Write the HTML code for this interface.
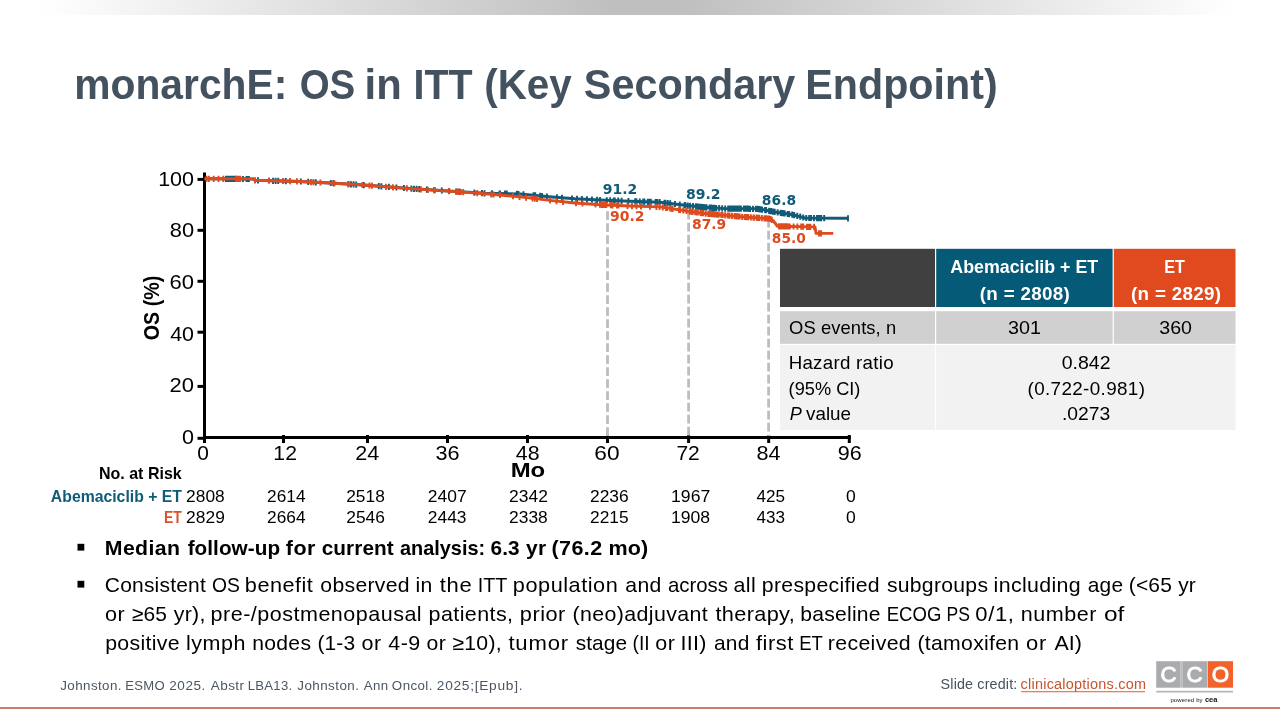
<!DOCTYPE html>
<html lang="en">
<head>
<meta charset="utf-8">
<title>monarchE: OS in ITT (Key Secondary Endpoint)</title>
<style>
html,body{margin:0;padding:0;background:#fff;}
body{width:1280px;height:720px;overflow:hidden;font-family:"Liberation Sans", sans-serif;}
svg{display:block;will-change:transform;}
text{white-space:pre;}
</style>
</head>
<body>
<svg width="1280" height="720" viewBox="0 0 1280 720" xml:space="preserve">
<defs>
<linearGradient id="topg" x1="0" x2="1" y1="0" y2="0">
<stop offset="0" stop-color="#ffffff"/><stop offset="0.03" stop-color="#ffffff"/><stop offset="0.48" stop-color="#bfbfbf"/><stop offset="0.53" stop-color="#bfbfbf"/><stop offset="0.965" stop-color="#ffffff"/><stop offset="1" stop-color="#ffffff"/>
</linearGradient>
</defs>
<rect x="0" y="0" width="1280" height="15" fill="url(#topg)"/>
<text x="74.31" y="99" font-family='"Liberation Sans", sans-serif' font-size="43" fill="#44525f" font-weight="bold" textLength="224.25" lengthAdjust="spacingAndGlyphs">monarchE: </text>
<text x="299.67" y="99" font-family='"Liberation Sans", sans-serif' font-size="43" fill="#44525f" font-weight="bold" textLength="66.25" lengthAdjust="spacingAndGlyphs">OS </text>
<text x="364.58" y="99" font-family='"Liberation Sans", sans-serif' font-size="43" fill="#44525f" font-weight="bold" textLength="48.75" lengthAdjust="spacingAndGlyphs">in </text>
<text x="413.62" y="99" font-family='"Liberation Sans", sans-serif' font-size="43" fill="#44525f" font-weight="bold" textLength="70.00" lengthAdjust="spacingAndGlyphs">ITT </text>
<text x="484.24" y="99" font-family='"Liberation Sans", sans-serif' font-size="43" fill="#44525f" font-weight="bold" textLength="98.75" lengthAdjust="spacingAndGlyphs">(Key </text>
<text x="583.81" y="99" font-family='"Liberation Sans", sans-serif' font-size="43" fill="#44525f" font-weight="bold" textLength="223.00" lengthAdjust="spacingAndGlyphs">Secondary </text>
<text x="805.24" y="99" font-family='"Liberation Sans", sans-serif' font-size="43" fill="#44525f" font-weight="bold" textLength="192.41" lengthAdjust="spacingAndGlyphs" >Endpoint)</text>
<g stroke="#000" stroke-width="3" fill="none">
<path d="M204.5 172.5V439"/>
<path d="M203 437.5H850.7"/>
<path d="M197.5 179.4H204"/>
<path d="M197.5 230.3H204"/>
<path d="M197.5 281.3H204"/>
<path d="M197.5 332.2H204"/>
<path d="M197.5 386.4H204"/>
<path d="M197.5 438.3H204"/>
<path d="M204.5 435V443"/>
<path d="M283.5 435V443"/>
<path d="M367.5 435V443"/>
<path d="M447.5 435V443"/>
<path d="M527.5 435V443"/>
<path d="M607.5 435V443"/>
<path d="M688.6 435V443"/>
<path d="M768.7 435V443"/>
<path d="M849.3 435V443"/>
</g>
<text x="158.16" y="186" font-family='"Liberation Sans", sans-serif' font-size="19.8" fill="#000" textLength="35.88" lengthAdjust="spacingAndGlyphs" >100</text>
<text x="169.75" y="237.2" font-family='"Liberation Sans", sans-serif' font-size="19.8" fill="#000" textLength="24.30" lengthAdjust="spacingAndGlyphs" >80</text>
<text x="169.58" y="288.7" font-family='"Liberation Sans", sans-serif' font-size="19.8" fill="#000" textLength="24.48" lengthAdjust="spacingAndGlyphs" >60</text>
<text x="170.21" y="340.8" font-family='"Liberation Sans", sans-serif' font-size="19.8" fill="#000" textLength="23.83" lengthAdjust="spacingAndGlyphs" >40</text>
<text x="169.59" y="391.9" font-family='"Liberation Sans", sans-serif' font-size="19.8" fill="#000" textLength="24.47" lengthAdjust="spacingAndGlyphs" >20</text>
<text x="182.06" y="443.5" font-family='"Liberation Sans", sans-serif' font-size="19.8" fill="#000" textLength="11.98" lengthAdjust="spacingAndGlyphs" >0</text>
<text x="197.28" y="460" font-family='"Liberation Sans", sans-serif' font-size="19.8" fill="#000" textLength="11.63" lengthAdjust="spacingAndGlyphs" >0</text>
<text x="273.39" y="460" font-family='"Liberation Sans", sans-serif' font-size="19.8" fill="#000" textLength="23.58" lengthAdjust="spacingAndGlyphs" >12</text>
<text x="355.21" y="460" font-family='"Liberation Sans", sans-serif' font-size="19.8" fill="#000" textLength="24.02" lengthAdjust="spacingAndGlyphs" >24</text>
<text x="435.48" y="460" font-family='"Liberation Sans", sans-serif' font-size="19.8" fill="#000" textLength="24.08" lengthAdjust="spacingAndGlyphs" >36</text>
<text x="515.81" y="460" font-family='"Liberation Sans", sans-serif' font-size="19.8" fill="#000" textLength="23.72" lengthAdjust="spacingAndGlyphs" >48</text>
<text x="594.35" y="460" font-family='"Liberation Sans", sans-serif' font-size="19.8" fill="#000" textLength="25.29" lengthAdjust="spacingAndGlyphs" >60</text>
<text x="676.42" y="460" font-family='"Liberation Sans", sans-serif' font-size="19.8" fill="#000" textLength="23.39" lengthAdjust="spacingAndGlyphs" >72</text>
<text x="756.56" y="460" font-family='"Liberation Sans", sans-serif' font-size="19.8" fill="#000" textLength="24.07" lengthAdjust="spacingAndGlyphs" >84</text>
<text x="837.74" y="460" font-family='"Liberation Sans", sans-serif' font-size="19.8" fill="#000" textLength="23.96" lengthAdjust="spacingAndGlyphs" >96</text>
<text transform="translate(159.0 340.25) rotate(-90)" font-family='"Liberation Sans", sans-serif' font-size="21.2" font-weight="bold" textLength="64.49" lengthAdjust="spacingAndGlyphs">OS (%)</text>
<text x="510.65" y="476.6" font-family='"Liberation Sans", sans-serif' font-size="20.8" fill="#000" font-weight="bold" textLength="34.53" lengthAdjust="spacingAndGlyphs" >Mo</text>
<g stroke="#bdbdbd" stroke-width="2.8" stroke-dasharray="8.8 3.2" fill="none">
<path d="M607.5 211.2V436"/>
<path d="M688.6 210.8V436"/>
<path d="M768.6 218.8V436"/>
</g>
<g fill="none" stroke="#0f5b78"><path d="M204.5 178.8L253.5 179L255 180.3L300 181.5L330 183L360 184.8L410 188.5L460 191.7L485 193.3L500 193.5L520 194L552 197L575 198.8L600 200L630 201.2L660 202.2L687 205.5L705 207.3L725 208.6L757 208.8L765 210L775 212L793 214.8L805 218L848 218.3" stroke-width="2.9" stroke-linejoin="round"/><path d="M226.0 175.8V182.0M227.6 175.8V182.0M228.2 175.8V182.0M229.8 175.8V182.0M230.3 175.8V182.0M231.9 175.8V182.0M233.5 175.8V182.0M234.1 175.8V182.0M235.7 175.8V182.0M243.0 175.9V182.1M246.5 175.9V182.1M247.7 175.9V182.1M248.9 175.9V182.1M258.0 177.3V183.5M273.0 177.7V183.9M275.6 177.8V183.9M278.2 177.8V184.0M285.8 178.0V184.2M300.8 178.4V184.6M308.2 178.8V185.0M315.8 179.2V185.4M330.8 179.9V186.1M333.4 180.1V186.3M348.4 181.0V187.2M351.0 181.2V187.4M353.6 181.3V187.5M356.2 181.5V187.7M363.8 182.0V188.2M378.8 183.1V189.3M381.4 183.3V189.5M388.9 183.8V190.0M396.4 184.4V190.6M403.9 184.9V191.1M411.4 185.5V191.7M414.0 185.7V191.9M416.6 185.8V192.0M419.2 186.0V192.2M426.8 186.5V192.7M434.2 187.0V193.2M441.8 187.4V193.6M449.2 187.9V194.1M456.8 188.4V194.6M459.4 188.6V194.8M474.4 189.5V195.7M481.9 190.0V196.2M484.5 190.2V196.4M492.0 190.3V196.5M499.5 190.4V196.6M500.0 190.4V196.6M505.0 190.5V196.7M506.8 190.6V196.8M516.8 190.8V197.0M518.5 190.9V197.1M523.5 191.2V197.4M533.5 192.2V198.4M535.2 192.3V198.5M540.2 192.8V199.0M542.0 193.0V199.2M547.0 193.4V199.6M557.0 194.3V200.5M562.0 194.7V200.9M572.0 195.5V201.7M577.0 195.8V202.0M582.0 196.0V202.2M587.0 196.3V202.5M592.0 196.5V202.7M597.0 196.8V203.0M600.0 196.9V203.1M606.8 197.2V203.4M610.2 197.3V203.5M613.6 197.4V203.6M614.8 197.5V203.7M618.2 197.6V203.8M621.6 197.8V204.0M628.4 198.0V204.2M635.2 198.3V204.5M636.4 198.3V204.5M639.8 198.4V204.6M643.2 198.5V204.7M644.4 198.6V204.8M647.8 198.7V204.9M649.0 198.7V204.9M650.0 198.8V205.0M650.8 198.8V205.0M655.6 199.0V205.2M656.5 199.0V205.2M657.3 199.0V205.2M659.7 199.1V205.3M664.5 199.7V205.9M665.4 199.8V206.0M667.8 200.0V206.2M670.2 200.3V206.5M675.0 200.9V207.1M679.8 201.5V207.7M684.6 202.1V208.3M685.4 202.2V208.4M687.8 202.5V208.7M690.0 202.7V208.9M693.0 203.0V209.2M696.0 203.3V209.5M696.5 203.4V209.6M697.0 203.4V209.6M697.6 203.5V209.7M698.1 203.5V209.7M699.6 203.7V209.9M701.1 203.8V210.0M701.6 203.9V210.1M702.1 203.9V210.1M703.6 204.1V210.3M705.1 204.2V210.4M706.6 204.3V210.5M709.6 204.5V210.7M711.1 204.6V210.8M712.6 204.7V210.9M714.1 204.8V211.0M715.6 204.9V211.1M716.2 204.9V211.1M719.2 205.1V211.3M722.2 205.3V211.5M725.2 205.5V211.7M728.2 205.5V211.7M729.7 205.5V211.7M731.2 205.5V211.7M731.7 205.5V211.7M733.2 205.6V211.8M733.7 205.6V211.8M734.2 205.6V211.8M734.8 205.6V211.8M735.3 205.6V211.8M736.8 205.6V211.8M737.3 205.6V211.8M737.8 205.6V211.8M738.4 205.6V211.8M738.9 205.6V211.8M740.4 205.6V211.8M740.9 205.6V211.8M743.9 205.6V211.8M745.4 205.6V211.8M745.9 205.6V211.8M746.5 205.6V211.8M748.0 205.6V211.8M749.5 205.7V211.9M750.0 205.7V211.9M753.0 205.7V211.9M756.0 205.7V211.9M757.5 205.8V212.0M759.0 206.0V212.2M759.5 206.1V212.3M760.0 206.2V212.4M761.5 206.4V212.6M762.1 206.5V212.7M765.1 206.9V213.1M765.6 207.0V213.2M766.1 207.1V213.3M769.1 207.7V213.9M770.6 208.0V214.2M771.1 208.1V214.3M772.6 208.4V214.6M773.2 208.5V214.7M774.7 208.8V215.0M777.7 209.3V215.5M780.7 209.8V216.0M782.2 210.0V216.2M782.7 210.1V216.3M784.2 210.3V216.5M784.7 210.4V216.6M787.7 210.9V217.1M789.2 211.1V217.3M792.2 211.6V217.8M793.7 211.9V218.1M794.2 212.0V218.2M797.2 212.8V219.0M800.2 213.6V219.8M803.2 214.4V220.6M806.2 214.9V221.1M809.2 214.9V221.1M810.0 214.9V221.1M811.0 214.9V221.1M814.0 215.0V221.2M817.0 215.0V221.2M818.1 215.0V221.2M819.1 215.0V221.2M820.2 215.0V221.2M821.2 215.0V221.2M824.2 215.0V221.2M848 215.2V221.6" stroke-width="1.9"/></g>
<g fill="none" stroke="#de4b1f"><path d="M204.5 178.8L253.5 178.9L255 180.3L300 181.5L330 183L360 184.8L410 188.6L460 191.9L485 193.75L500 195L520 196.9L552 200.6L575 203L600 204.75L630 206L660 206.9L687 211L705 213.5L725 215.25L745 217L762 218.1L770 218.75L773 220.5L777.5 226.25L815 226.9L816 233.4L833.3 233.4" stroke-width="2.9" stroke-linejoin="round"/><path d="M206.5 175.7V181.9M208.9 175.7V181.9M213.7 175.7V181.9M218.5 175.7V181.9M223.3 175.7V181.9M236.0 175.8V182.0M237.1 175.8V182.0M238.1 175.8V182.0M239.2 175.8V182.0M240.2 175.8V182.0M255.0 177.2V183.4M269.0 177.6V183.8M283.0 177.9V184.1M290.0 178.1V184.3M297.0 178.3V184.5M311.0 179.0V185.2M313.4 179.1V185.3M320.4 179.4V185.6M334.4 180.2V186.4M348.4 181.0V187.2M362.4 181.9V188.1M369.4 182.4V188.6M371.9 182.6V188.8M385.9 183.7V189.9M392.9 184.2V190.4M406.9 185.3V191.5M420.9 186.2V192.4M427.9 186.7V192.9M434.9 187.1V193.3M448.9 188.1V194.3M455.9 188.5V194.7M458.3 188.7V194.9M460.8 188.9V195.1M463.2 189.0V195.2M477.2 190.1V196.3M491.2 191.2V197.4M493.7 191.4V197.6M500.0 191.9V198.1M513.0 193.1V199.3M519.5 193.8V200.0M526.0 194.5V200.7M532.5 195.2V201.4M534.8 195.5V201.7M537.0 195.8V202.0M550.0 197.3V203.5M556.5 198.0V204.2M563.0 198.7V204.9M576.0 200.0V206.2M582.5 200.4V206.6M595.5 201.3V207.5M600.0 201.7V207.8M601.6 201.7V207.9M603.2 201.8V208.0M604.7 201.8V208.0M606.3 201.9V208.1M610.8 202.1V208.3M612.4 202.2V208.4M616.9 202.4V208.6M618.5 202.4V208.6M627.5 202.8V209.0M632.0 203.0V209.2M636.5 203.1V209.3M641.0 203.2V209.4M650.0 203.5V209.7M650.0 203.5V209.7M656.4 203.7V209.9M659.6 203.8V210.0M662.8 204.2V210.4M666.0 204.7V210.9M667.1 204.9V211.1M670.3 205.4V211.6M671.4 205.5V211.7M672.6 205.7V211.9M679.0 206.7V212.9M680.1 206.8V213.0M683.3 207.3V213.5M686.5 207.8V214.0M689.7 208.3V214.5M690.0 208.3V214.5M691.3 208.5V214.7M692.6 208.7V214.9M695.2 209.0V215.2M695.7 209.1V215.3M697.0 209.3V215.5M697.4 209.3V215.5M697.9 209.4V215.6M700.5 209.8V216.0M701.8 210.0V216.2M703.1 210.1V216.3M705.7 210.5V216.7M708.3 210.7V216.9M709.6 210.8V217.0M710.9 210.9V217.1M712.2 211.0V217.2M713.5 211.1V217.3M714.8 211.3V217.5M716.1 211.4V217.6M717.4 211.5V217.7M718.7 211.6V217.8M721.3 211.8V218.0M722.6 211.9V218.1M725.2 212.2V218.4M727.8 212.4V218.6M728.2 212.4V218.6M729.5 212.5V218.7M732.1 212.8V219.0M734.7 213.0V219.2M735.2 213.0V219.2M735.6 213.1V219.3M736.9 213.2V219.4M737.4 213.2V219.4M737.8 213.3V219.5M738.3 213.3V219.5M739.6 213.4V219.6M742.2 213.7V219.9M744.8 213.9V220.1M745.2 213.9V220.1M746.5 214.0V220.2M747.8 214.1V220.3M748.3 214.1V220.3M750.9 214.3V220.5M753.5 214.5V220.7M754.0 214.5V220.7M756.6 214.6V220.8M757.9 214.7V220.9M759.2 214.8V221.0M761.8 215.0V221.2M764.4 215.2V221.4M764.8 215.2V221.4M766.1 215.3V221.5M767.4 215.4V221.6M768.7 215.5V221.7M769.2 215.6V221.8M770.5 215.9V222.1M771.8 216.7V222.9M779.0 223.2V229.4M780.9 223.2V229.4M782.8 223.2V229.4M783.5 223.3V229.5M785.4 223.3V229.5M787.3 223.3V229.5M789.2 223.4V229.6M789.8 223.4V229.6M793.6 223.4V229.6M797.4 223.5V229.7M801.2 223.6V229.8M801.9 223.6V229.8M802.6 223.6V229.8M803.2 223.6V229.8M807.0 223.7V229.9M807.7 223.7V229.9M808.4 223.7V229.9M810.3 223.7V229.9M814.1 223.8V230.0M819.0 230.3V236.5M820.0 230.3V236.5M821.1 230.3V236.5" stroke-width="1.9"/></g>
<text x="602.78" y="194.3" font-family='"DejaVu Sans", "Liberation Sans", sans-serif' font-size="14.6" fill="#0f5b78" font-weight="bold" textLength="34.44" lengthAdjust="spacingAndGlyphs" >91.2</text>
<text x="686.04" y="199.3" font-family='"DejaVu Sans", "Liberation Sans", sans-serif' font-size="14.6" fill="#0f5b78" font-weight="bold" textLength="34.57" lengthAdjust="spacingAndGlyphs" >89.2</text>
<text x="761.85" y="205.3" font-family='"DejaVu Sans", "Liberation Sans", sans-serif' font-size="14.6" fill="#0f5b78" font-weight="bold" textLength="34.21" lengthAdjust="spacingAndGlyphs" >86.8</text>
<text x="610.08" y="221.4" font-family='"DejaVu Sans", "Liberation Sans", sans-serif' font-size="14.6" fill="#de4b1f" font-weight="bold" textLength="34.44" lengthAdjust="spacingAndGlyphs" >90.2</text>
<text x="692.05" y="228.9" font-family='"DejaVu Sans", "Liberation Sans", sans-serif' font-size="14.6" fill="#de4b1f" font-weight="bold" textLength="34.23" lengthAdjust="spacingAndGlyphs" >87.9</text>
<text x="771.86" y="242.7" font-family='"DejaVu Sans", "Liberation Sans", sans-serif' font-size="14.6" fill="#de4b1f" font-weight="bold" textLength="34.00" lengthAdjust="spacingAndGlyphs" >85.0</text>
<rect x="780" y="248.8" width="155" height="58.2" fill="#404040"/>
<rect x="936.2" y="248.8" width="176.4" height="58.2" fill="#055a78"/>
<rect x="1113.8" y="248.8" width="121.7" height="58.2" fill="#e04a1e"/>
<rect x="780" y="311.2" width="155" height="32.6" fill="#d0d0d0"/>
<rect x="936.2" y="311.2" width="176.4" height="32.6" fill="#d0d0d0"/>
<rect x="1113.8" y="311.2" width="121.7" height="32.6" fill="#d0d0d0"/>
<rect x="780" y="345" width="155" height="85" fill="#f2f2f2"/>
<rect x="936.2" y="345" width="299.3" height="85" fill="#f2f2f2"/>
<text x="950.31" y="272.5" font-family='"Liberation Sans", sans-serif' font-size="18.2" fill="#fff" font-weight="bold" textLength="147.88" lengthAdjust="spacingAndGlyphs" >Abemaciclib + ET</text>
<text x="979.82" y="300" font-family='"Liberation Sans", sans-serif' font-size="18.2" fill="#fff" font-weight="bold" letter-spacing="0.297" textLength="90.18" lengthAdjust="spacingAndGlyphs" >(n = 2808)</text>
<text x="1164.22" y="272.5" font-family='"Liberation Sans", sans-serif' font-size="18.2" fill="#fff" font-weight="bold" textLength="20.65" lengthAdjust="spacingAndGlyphs" >ET</text>
<text x="1131.07" y="300" font-family='"Liberation Sans", sans-serif' font-size="18.2" fill="#fff" font-weight="bold" letter-spacing="0.297" textLength="90.18" lengthAdjust="spacingAndGlyphs" >(n = 2829)</text>
<text x="789.13" y="333.75" font-family='"Liberation Sans", sans-serif' font-size="18.2" fill="#000" letter-spacing="0.083" textLength="107.15" lengthAdjust="spacingAndGlyphs" >OS events, n</text>
<text x="1008.00" y="333.75" font-family='"Liberation Sans", sans-serif' font-size="18.2" fill="#000" textLength="32.97" lengthAdjust="spacingAndGlyphs" >301</text>
<text x="1159.25" y="333.75" font-family='"Liberation Sans", sans-serif' font-size="18.2" fill="#000" textLength="32.77" lengthAdjust="spacingAndGlyphs" >360</text>
<text x="788.66" y="368.5" font-family='"Liberation Sans", sans-serif' font-size="18.2" fill="#000" letter-spacing="0.260" textLength="105.19" lengthAdjust="spacingAndGlyphs" >Hazard ratio</text>
<text x="788.57" y="394.5" font-family='"Liberation Sans", sans-serif' font-size="18.2" fill="#000" letter-spacing="0.004" textLength="71.86" lengthAdjust="spacingAndGlyphs" >(95% CI)</text>
<text x="789.64" y="419.7" font-family='"Liberation Sans", sans-serif' font-size="18.2" fill="#000" font-style="italic" textLength="12.07" lengthAdjust="spacingAndGlyphs" >P</text>
<text x="806.04" y="419.7" font-family='"Liberation Sans", sans-serif' font-size="18.2" fill="#000" textLength="45.00" lengthAdjust="spacingAndGlyphs" >value</text>
<text x="1061.74" y="368.5" font-family='"Liberation Sans", sans-serif' font-size="18.2" fill="#000" textLength="48.74" lengthAdjust="spacingAndGlyphs" >0.842</text>
<text x="1027.58" y="394.5" font-family='"Liberation Sans", sans-serif' font-size="18.2" fill="#000" letter-spacing="0.333" textLength="117.68" lengthAdjust="spacingAndGlyphs" >(0.722-0.981)</text>
<text x="1061.99" y="419.7" font-family='"Liberation Sans", sans-serif' font-size="18.2" fill="#000" textLength="48.36" lengthAdjust="spacingAndGlyphs" >.0273</text>
<text x="98.93" y="478.75" font-family='"Liberation Sans", sans-serif' font-size="16.2" fill="#000" font-weight="bold" textLength="82.81" lengthAdjust="spacingAndGlyphs" >No. at Risk</text>
<text x="50.86" y="501.75" font-family='"Liberation Sans", sans-serif' font-size="16.2" fill="#0f5b78" font-weight="bold" textLength="131.06" lengthAdjust="spacingAndGlyphs" >Abemaciclib + ET</text>
<text x="164.07" y="523.25" font-family='"Liberation Sans", sans-serif' font-size="16.2" fill="#d9532c" font-weight="bold" textLength="17.83" lengthAdjust="spacingAndGlyphs" >ET</text>
<text x="186.13" y="501.75" font-family='"Liberation Sans", sans-serif' font-size="16.2" fill="#000" textLength="38.63" lengthAdjust="spacingAndGlyphs" >2808</text>
<text x="267.13" y="501.75" font-family='"Liberation Sans", sans-serif' font-size="16.2" fill="#000" textLength="38.37" lengthAdjust="spacingAndGlyphs" >2614</text>
<text x="346.23" y="501.75" font-family='"Liberation Sans", sans-serif' font-size="16.2" fill="#000" textLength="38.63" lengthAdjust="spacingAndGlyphs" >2518</text>
<text x="427.87" y="501.75" font-family='"Liberation Sans", sans-serif' font-size="16.2" fill="#000" textLength="38.75" lengthAdjust="spacingAndGlyphs" >2407</text>
<text x="509.12" y="501.75" font-family='"Liberation Sans", sans-serif' font-size="16.2" fill="#000" textLength="38.75" lengthAdjust="spacingAndGlyphs" >2342</text>
<text x="590.03" y="501.75" font-family='"Liberation Sans", sans-serif' font-size="16.2" fill="#000" textLength="38.64" lengthAdjust="spacingAndGlyphs" >2236</text>
<text x="671.06" y="501.75" font-family='"Liberation Sans", sans-serif' font-size="16.2" fill="#000" textLength="39.23" lengthAdjust="spacingAndGlyphs" >1967</text>
<text x="756.41" y="501.75" font-family='"Liberation Sans", sans-serif' font-size="16.2" fill="#000" textLength="28.51" lengthAdjust="spacingAndGlyphs" >425</text>
<text x="846.01" y="501.75" font-family='"Liberation Sans", sans-serif' font-size="16.2" fill="#000" textLength="9.77" lengthAdjust="spacingAndGlyphs" >0</text>
<text x="186.13" y="523.25" font-family='"Liberation Sans", sans-serif' font-size="16.2" fill="#000" textLength="38.70" lengthAdjust="spacingAndGlyphs" >2829</text>
<text x="267.13" y="523.25" font-family='"Liberation Sans", sans-serif' font-size="16.2" fill="#000" textLength="38.37" lengthAdjust="spacingAndGlyphs" >2664</text>
<text x="346.23" y="523.25" font-family='"Liberation Sans", sans-serif' font-size="16.2" fill="#000" textLength="38.64" lengthAdjust="spacingAndGlyphs" >2546</text>
<text x="427.88" y="523.25" font-family='"Liberation Sans", sans-serif' font-size="16.2" fill="#000" textLength="38.64" lengthAdjust="spacingAndGlyphs" >2443</text>
<text x="509.13" y="523.25" font-family='"Liberation Sans", sans-serif' font-size="16.2" fill="#000" textLength="38.63" lengthAdjust="spacingAndGlyphs" >2338</text>
<text x="590.03" y="523.25" font-family='"Liberation Sans", sans-serif' font-size="16.2" fill="#000" textLength="38.60" lengthAdjust="spacingAndGlyphs" >2215</text>
<text x="671.06" y="523.25" font-family='"Liberation Sans", sans-serif' font-size="16.2" fill="#000" textLength="39.10" lengthAdjust="spacingAndGlyphs" >1908</text>
<text x="756.41" y="523.25" font-family='"Liberation Sans", sans-serif' font-size="16.2" fill="#000" textLength="28.54" lengthAdjust="spacingAndGlyphs" >433</text>
<text x="846.01" y="523.25" font-family='"Liberation Sans", sans-serif' font-size="16.2" fill="#000" textLength="9.77" lengthAdjust="spacingAndGlyphs" >0</text>
<rect x="77.5" y="543.8" width="6.8" height="6.8" fill="#000"/>
<rect x="77.5" y="580.8" width="6.8" height="6.8" fill="#000"/>
<text x="104.83" y="555" font-family='"Liberation Sans", sans-serif' font-size="20.6" fill="#000" font-weight="bold" letter-spacing="0.362" textLength="81.75" lengthAdjust="spacingAndGlyphs">Median </text>
<text x="187.65" y="555" font-family='"Liberation Sans", sans-serif' font-size="20.6" fill="#000" font-weight="bold" letter-spacing="0.050" textLength="98.25" lengthAdjust="spacingAndGlyphs">follow-up </text>
<text x="285.88" y="555" font-family='"Liberation Sans", sans-serif' font-size="20.6" fill="#000" font-weight="bold" letter-spacing="0.383" textLength="36.25" lengthAdjust="spacingAndGlyphs">for </text>
<text x="321.69" y="555" font-family='"Liberation Sans", sans-serif' font-size="20.6" fill="#000" font-weight="bold" letter-spacing="0.081" textLength="78.00" lengthAdjust="spacingAndGlyphs">current </text>
<text x="399.92" y="555" font-family='"Liberation Sans", sans-serif' font-size="20.6" fill="#000" font-weight="bold" textLength="90.75" lengthAdjust="spacingAndGlyphs">analysis: </text>
<text x="490.49" y="555" font-family='"Liberation Sans", sans-serif' font-size="20.6" fill="#000" font-weight="bold" letter-spacing="0.080" textLength="35.00" lengthAdjust="spacingAndGlyphs">6.3 </text>
<text x="526.09" y="555" font-family='"Liberation Sans", sans-serif' font-size="20.6" fill="#000" font-weight="bold" letter-spacing="0.176" textLength="26.25" lengthAdjust="spacingAndGlyphs">yr </text>
<text x="551.43" y="555" font-family='"Liberation Sans", sans-serif' font-size="20.6" fill="#000" font-weight="bold" letter-spacing="0.402" textLength="57.50" lengthAdjust="spacingAndGlyphs">(76.2 </text>
<text x="608.58" y="555" font-family='"Liberation Sans", sans-serif' font-size="20.6" fill="#000" font-weight="bold" textLength="39.49" lengthAdjust="spacingAndGlyphs" >mo)</text>
<text x="104.83" y="591.75" font-family='"Liberation Sans", sans-serif' font-size="20.6" fill="#000" letter-spacing="0.184" textLength="107.10" lengthAdjust="spacingAndGlyphs">Consistent </text>
<text x="212.09" y="591.75" font-family='"Liberation Sans", sans-serif' font-size="20.6" fill="#000" textLength="33.25" lengthAdjust="spacingAndGlyphs">OS </text>
<text x="244.85" y="591.75" font-family='"Liberation Sans", sans-serif' font-size="20.6" fill="#000" letter-spacing="0.464" textLength="75.00" lengthAdjust="spacingAndGlyphs">benefit </text>
<text x="320.36" y="591.75" font-family='"Liberation Sans", sans-serif' font-size="20.6" fill="#000" letter-spacing="0.294" textLength="95.75" lengthAdjust="spacingAndGlyphs">observed </text>
<text x="415.58" y="591.75" font-family='"Liberation Sans", sans-serif' font-size="20.6" fill="#000" letter-spacing="0.207" textLength="23.00" lengthAdjust="spacingAndGlyphs">in </text>
<text x="439.67" y="591.75" font-family='"Liberation Sans", sans-serif' font-size="20.6" fill="#000" letter-spacing="0.642" textLength="39.50" lengthAdjust="spacingAndGlyphs">the </text>
<text x="477.70" y="591.75" font-family='"Liberation Sans", sans-serif' font-size="20.6" fill="#000" textLength="34.75" lengthAdjust="spacingAndGlyphs">ITT </text>
<text x="512.85" y="591.75" font-family='"Liberation Sans", sans-serif' font-size="20.6" fill="#000" letter-spacing="0.509" textLength="112.00" lengthAdjust="spacingAndGlyphs">population </text>
<text x="625.35" y="591.75" font-family='"Liberation Sans", sans-serif' font-size="20.6" fill="#000" letter-spacing="0.301" textLength="42.50" lengthAdjust="spacingAndGlyphs">and </text>
<text x="667.88" y="591.75" font-family='"Liberation Sans", sans-serif' font-size="20.6" fill="#000" textLength="65.75" lengthAdjust="spacingAndGlyphs">across </text>
<text x="733.59" y="591.75" font-family='"Liberation Sans", sans-serif' font-size="20.6" fill="#000" letter-spacing="0.302" textLength="28.75" lengthAdjust="spacingAndGlyphs">all </text>
<text x="761.88" y="591.75" font-family='"Liberation Sans", sans-serif' font-size="20.6" fill="#000" letter-spacing="0.287" textLength="124.25" lengthAdjust="spacingAndGlyphs">prespecified </text>
<text x="886.91" y="591.75" font-family='"Liberation Sans", sans-serif' font-size="20.6" fill="#000" letter-spacing="0.279" textLength="107.50" lengthAdjust="spacingAndGlyphs">subgroups </text>
<text x="993.57" y="591.75" font-family='"Liberation Sans", sans-serif' font-size="20.6" fill="#000" letter-spacing="0.336" textLength="93.75" lengthAdjust="spacingAndGlyphs">including </text>
<text x="1087.86" y="591.75" font-family='"Liberation Sans", sans-serif' font-size="20.6" fill="#000" letter-spacing="0.145" textLength="41.25" lengthAdjust="spacingAndGlyphs">age </text>
<text x="1128.70" y="591.75" font-family='"Liberation Sans", sans-serif' font-size="20.6" fill="#000" letter-spacing="0.203" textLength="67.36" lengthAdjust="spacingAndGlyphs" >(&lt;65 yr</text>
<text x="104.99" y="620.75" font-family='"Liberation Sans", sans-serif' font-size="20.6" fill="#000" letter-spacing="0.427" textLength="26.60" lengthAdjust="spacingAndGlyphs">or </text>
<text x="131.84" y="620.75" font-family='"Liberation Sans", sans-serif' font-size="20.6" fill="#000" letter-spacing="0.163" textLength="41.25" lengthAdjust="spacingAndGlyphs">≥65 </text>
<text x="173.70" y="620.75" font-family='"Liberation Sans", sans-serif' font-size="20.6" fill="#000" letter-spacing="0.278" textLength="38.25" lengthAdjust="spacingAndGlyphs">yr), </text>
<text x="210.61" y="620.75" font-family='"Liberation Sans", sans-serif' font-size="20.6" fill="#000" letter-spacing="0.469" textLength="218.00" lengthAdjust="spacingAndGlyphs">pre-/postmenopausal </text>
<text x="428.61" y="620.75" font-family='"Liberation Sans", sans-serif' font-size="20.6" fill="#000" letter-spacing="0.383" textLength="91.25" lengthAdjust="spacingAndGlyphs">patients, </text>
<text x="519.85" y="620.75" font-family='"Liberation Sans", sans-serif' font-size="20.6" fill="#000" letter-spacing="0.464" textLength="52.50" lengthAdjust="spacingAndGlyphs">prior </text>
<text x="572.42" y="620.75" font-family='"Liberation Sans", sans-serif' font-size="20.6" fill="#000" letter-spacing="0.368" textLength="142.00" lengthAdjust="spacingAndGlyphs">(neo)adjuvant </text>
<text x="715.43" y="620.75" font-family='"Liberation Sans", sans-serif' font-size="20.6" fill="#000" letter-spacing="0.325" textLength="86.00" lengthAdjust="spacingAndGlyphs">therapy, </text>
<text x="800.39" y="620.75" font-family='"Liberation Sans", sans-serif' font-size="20.6" fill="#000" letter-spacing="0.224" textLength="86.50" lengthAdjust="spacingAndGlyphs">baseline </text>
<text x="886.73" y="620.75" font-family='"Liberation Sans", sans-serif' font-size="20.6" fill="#000" textLength="59.75" lengthAdjust="spacingAndGlyphs">ECOG </text>
<text x="946.56" y="620.75" font-family='"Liberation Sans", sans-serif' font-size="20.6" fill="#000" textLength="28.25" lengthAdjust="spacingAndGlyphs">PS </text>
<text x="975.39" y="620.75" font-family='"Liberation Sans", sans-serif' font-size="20.6" fill="#000" letter-spacing="0.592" textLength="46.00" lengthAdjust="spacingAndGlyphs">0/1, </text>
<text x="1020.82" y="620.75" font-family='"Liberation Sans", sans-serif' font-size="20.6" fill="#000" letter-spacing="0.513" textLength="82.75" lengthAdjust="spacingAndGlyphs">number </text>
<text x="1103.97" y="620.75" font-family='"Liberation Sans", sans-serif' font-size="20.6" fill="#000" textLength="20.39" lengthAdjust="spacingAndGlyphs" >of</text>
<text x="105.23" y="649.5" font-family='"Liberation Sans", sans-serif' font-size="20.6" fill="#000" letter-spacing="0.296" textLength="80.90" lengthAdjust="spacingAndGlyphs">positive </text>
<text x="186.05" y="649.5" font-family='"Liberation Sans", sans-serif' font-size="20.6" fill="#000" letter-spacing="0.465" textLength="66.25" lengthAdjust="spacingAndGlyphs">lymph </text>
<text x="252.35" y="649.5" font-family='"Liberation Sans", sans-serif' font-size="20.6" fill="#000" letter-spacing="0.262" textLength="65.00" lengthAdjust="spacingAndGlyphs">nodes </text>
<text x="317.45" y="649.5" font-family='"Liberation Sans", sans-serif' font-size="20.6" fill="#000" letter-spacing="0.139" textLength="43.75" lengthAdjust="spacingAndGlyphs">(1-3 </text>
<text x="361.60" y="649.5" font-family='"Liberation Sans", sans-serif' font-size="20.6" fill="#000" letter-spacing="0.368" textLength="26.25" lengthAdjust="spacingAndGlyphs">or </text>
<text x="388.26" y="649.5" font-family='"Liberation Sans", sans-serif' font-size="20.6" fill="#000" letter-spacing="0.407" textLength="38.75" lengthAdjust="spacingAndGlyphs">4-9 </text>
<text x="426.61" y="649.5" font-family='"Liberation Sans", sans-serif' font-size="20.6" fill="#000" letter-spacing="0.243" textLength="25.50" lengthAdjust="spacingAndGlyphs">or </text>
<text x="452.33" y="649.5" font-family='"Liberation Sans", sans-serif' font-size="20.6" fill="#000" letter-spacing="0.269" textLength="55.75" lengthAdjust="spacingAndGlyphs">≥10), </text>
<text x="508.42" y="649.5" font-family='"Liberation Sans", sans-serif' font-size="20.6" fill="#000" letter-spacing="0.760" textLength="67.50" lengthAdjust="spacingAndGlyphs">tumor </text>
<text x="575.67" y="649.5" font-family='"Liberation Sans", sans-serif' font-size="20.6" fill="#000" letter-spacing="0.115" textLength="57.50" lengthAdjust="spacingAndGlyphs">stage </text>
<text x="632.55" y="649.5" font-family='"Liberation Sans", sans-serif' font-size="20.6" fill="#000" textLength="22.50" lengthAdjust="spacingAndGlyphs">(II </text>
<text x="655.35" y="649.5" font-family='"Liberation Sans", sans-serif' font-size="20.6" fill="#000" letter-spacing="0.368" textLength="26.25" lengthAdjust="spacingAndGlyphs">or </text>
<text x="680.52" y="649.5" font-family='"Liberation Sans", sans-serif' font-size="20.6" fill="#000" letter-spacing="0.275" textLength="32.50" lengthAdjust="spacingAndGlyphs">III) </text>
<text x="714.11" y="649.5" font-family='"Liberation Sans", sans-serif' font-size="20.6" fill="#000" letter-spacing="0.145" textLength="41.25" lengthAdjust="spacingAndGlyphs">and </text>
<text x="755.94" y="649.5" font-family='"Liberation Sans", sans-serif' font-size="20.6" fill="#000" letter-spacing="0.466" textLength="44.50" lengthAdjust="spacingAndGlyphs">first </text>
<text x="799.25" y="649.5" font-family='"Liberation Sans", sans-serif' font-size="20.6" fill="#000" textLength="28.50" lengthAdjust="spacingAndGlyphs">ET </text>
<text x="827.84" y="649.5" font-family='"Liberation Sans", sans-serif' font-size="20.6" fill="#000" letter-spacing="0.329" textLength="89.50" lengthAdjust="spacingAndGlyphs">received </text>
<text x="917.43" y="649.5" font-family='"Liberation Sans", sans-serif' font-size="20.6" fill="#000" letter-spacing="0.289" textLength="108.25" lengthAdjust="spacingAndGlyphs">(tamoxifen </text>
<text x="1026.08" y="649.5" font-family='"Liberation Sans", sans-serif' font-size="20.6" fill="#000" letter-spacing="0.577" textLength="27.50" lengthAdjust="spacingAndGlyphs">or </text>
<text x="1054.46" y="649.5" font-family='"Liberation Sans", sans-serif' font-size="20.6" fill="#000" textLength="27.37" lengthAdjust="spacingAndGlyphs" >AI)</text>
<text x="60.29" y="689.6" font-family='"Liberation Sans", sans-serif' font-size="12.6" fill="#4b5663" letter-spacing="0.381" textLength="65.75" lengthAdjust="spacingAndGlyphs">Johnston. </text>
<text x="125.18" y="689.6" font-family='"Liberation Sans", sans-serif' font-size="12.6" fill="#4b5663" letter-spacing="0.314" textLength="43.75" lengthAdjust="spacingAndGlyphs">ESMO </text>
<text x="169.32" y="689.6" font-family='"Liberation Sans", sans-serif' font-size="12.6" fill="#4b5663" letter-spacing="0.477" textLength="40.75" lengthAdjust="spacingAndGlyphs">2025. </text>
<text x="210.72" y="689.6" font-family='"Liberation Sans", sans-serif' font-size="12.6" fill="#4b5663" letter-spacing="0.424" textLength="38.00" lengthAdjust="spacingAndGlyphs">Abstr </text>
<text x="247.67" y="689.6" font-family='"Liberation Sans", sans-serif' font-size="12.6" fill="#4b5663" letter-spacing="0.280" textLength="48.75" lengthAdjust="spacingAndGlyphs">LBA13. </text>
<text x="297.29" y="689.6" font-family='"Liberation Sans", sans-serif' font-size="12.6" fill="#4b5663" letter-spacing="0.406" textLength="66.25" lengthAdjust="spacingAndGlyphs">Johnston. </text>
<text x="363.72" y="689.6" font-family='"Liberation Sans", sans-serif' font-size="12.6" fill="#4b5663" letter-spacing="0.354" textLength="28.75" lengthAdjust="spacingAndGlyphs">Ann </text>
<text x="391.87" y="689.6" font-family='"Liberation Sans", sans-serif' font-size="12.6" fill="#4b5663" letter-spacing="0.363" textLength="45.00" lengthAdjust="spacingAndGlyphs">Oncol. </text>
<text x="436.81" y="689.6" font-family='"Liberation Sans", sans-serif' font-size="12.6" fill="#4b5663" letter-spacing="0.640" textLength="86.40" lengthAdjust="spacingAndGlyphs" >2025;[Epub].</text>
<text x="940.60" y="689.25" font-family='"Liberation Sans", sans-serif' font-size="14" fill="#46525e" letter-spacing="0.147" textLength="76.86" lengthAdjust="spacingAndGlyphs" >Slide credit:</text>
<text x="1020.64" y="689.25" font-family='"Liberation Sans", sans-serif' font-size="14" fill="#c8532d" letter-spacing="0.216" textLength="125.54" lengthAdjust="spacingAndGlyphs" >clinicaloptions.com</text>
<rect x="1021.2" y="691.3" width="123.8" height="0.9" fill="#c8532d"/>
<rect x="1156.2" y="661.2" width="24.4" height="26.5" fill="#a9abae"/>
<rect x="1180.6" y="661.2" width="2.2" height="26.5" fill="#b9bbbd"/>
<rect x="1182.8" y="661.2" width="24.6" height="26.5" fill="#a9abae"/>
<rect x="1207.8" y="661.2" width="25.2" height="26.5" fill="#f1632a"/>
<text x="1168.6" y="682.4" font-family='"Liberation Sans", sans-serif' font-size="22.4" fill="#fff" stroke="#fff" stroke-width="0.9" text-anchor="middle">C</text>
<text x="1194.6" y="682.4" font-family='"Liberation Sans", sans-serif' font-size="22.4" fill="#fff" stroke="#fff" stroke-width="0.9" text-anchor="middle">C</text>
<text x="1220.4" y="682.4" font-family='"Liberation Sans", sans-serif' font-size="22.4" fill="#fff" stroke="#fff" stroke-width="0.9" text-anchor="middle">O</text>
<rect x="1156.2" y="690.8" width="76.8" height="1.7" fill="#b4b6b8"/>
<text x="1170.42" y="701.6" font-family='"Liberation Sans", sans-serif' font-size="5.7" fill="#111" letter-spacing="0.151" textLength="32.35" lengthAdjust="spacingAndGlyphs" >powered by</text>
<text x="1204.91" y="701.6" font-family='"Liberation Sans", sans-serif' font-size="7" fill="#111" font-weight="bold" textLength="12.55" lengthAdjust="spacingAndGlyphs" >cea</text>
<rect x="0" y="707" width="1280" height="2" fill="#c6806a"/>
</svg>
</body>
</html>
